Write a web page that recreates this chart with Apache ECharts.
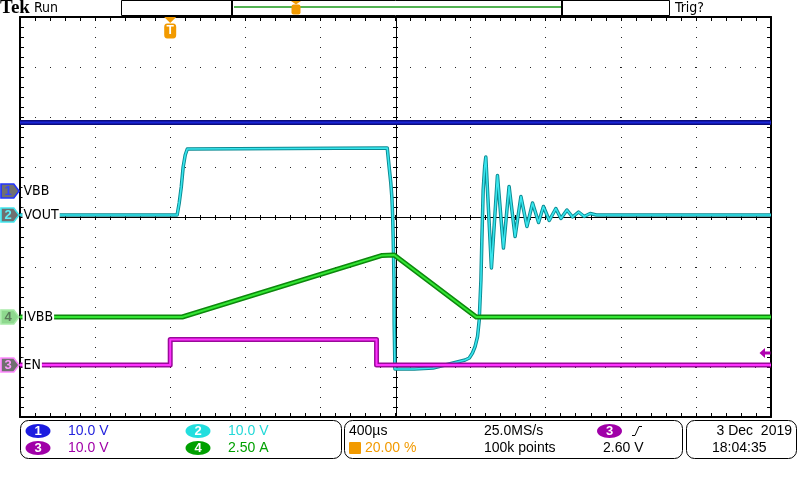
<!DOCTYPE html>
<html><head><meta charset="utf-8">
<script src="https://cdn.jsdelivr.net/npm/echarts@6/dist/echarts.min.js"></script>
<style>html,body{margin:0;padding:0;background:#fff}#c{width:800px;height:480px}</style>
</head><body><div id="c"></div>
<script>
// ---------- data (time in µs, 400 µs/div, trigger at 20 %) ----------
const timeMin = -800, timeMax = 3200, timeDiv = 400;

const vbbTime = [-800, 3200];
const vbbVolt = [13.7, 13.7];

const voutTime = [-800, 37, 48, 59, 69, 80, 91, 100, 1156, 1166, 1175, 1181, 1185, 1188, 1192, 1193, 1197,
  1300, 1400, 1486, 1571, 1593, 1610, 1624, 1637, 1646, 1655, 1660, 1667, 1675, 1681,
  1711, 1743, 1775, 1805, 1837, 1868, 1900, 1930, 1962, 1988, 2019, 2054, 2081, 2113, 2143, 2175, 2205, 2237, 2270, 3200];
const voutVolt = [0, 0, 2.4, 5.6, 9.6, 12.0, 13.2, 13.5, 13.4, 9.6, 6.4, 3.4, -0.4, -5, -13, -21.6, -30.8,
  -30.8, -30.6, -29.8, -29.0, -28.6, -27.6, -26.3, -24.3, -21, -13, -5, 5, 9.7, 11.6,
  -10.6, 7.9, -6.6, 5.7, -4.3, 3.7, -2.3, 2.4, -1.5, 1.7, -1.1, 1.3, -0.7, 1.0, -0.4, 0.6, -0.3, 0.3, 0, 0];

const ivbbTime = [-800, 64, 1129, 1193, 1630, 3200];
const ivbbAmp  = [0, 0, 3.08, 3.1, 0, 0];

const enTime = [-800, 0, 0, 1099, 1099, 3200];
const enVolt = [0, 0, 5.1, 5.1, 0, 0];

const trigLevel = 2.60;

// channel settings: scale per division and ground offset in divisions
const chNames   = ['VBB', 'VOUT', 'EN', 'IVBB'];
const chScale   = [10, 10, 10, 2.5];
const chOffset  = [0.52, 0.04, -2.96, -2.0];

// ---------- helpers ----------
function toDiv(times, vals, ch) {
  return times.map((t, i) => [t, vals[i] / chScale[ch] + chOffset[ch]]);
}
const FONT = "'Liberation Sans', 'DejaVu Sans', sans-serif";
const NARROW = "'Liberation Sans Narrow', 'DejaVu Sans Condensed', 'Liberation Sans', sans-serif";

const chStyle = [
  { outer: '#0c0c7e', inner: '#1a26d8', ow: 5, iw: 1.8, markFill: '#707070', markBorder: '#2233ff', markText: '#3344ff' },
  { outer: '#0b8a92', inner: '#38e6ee', ow: 3.5, iw: 1.6, markFill: '#707070', markBorder: '#40e8f0', markText: '#60f0f8' },
  { outer: '#9a0a9a', inner: '#ff33ff', ow: 5, iw: 2, markFill: '#707070', markBorder: '#ff88ff', markText: '#ff99ff' },
  { outer: '#0d880d', inner: '#33e633', ow: 5, iw: 2, markFill: '#8ed88e', markBorder: '#a8eaa8', markText: '#5a7a5a' }
];
const pentagon = 'path://M0,0 L12,0 L17,7 L12,14 L0,14 Z';

function channelMarks(ch) {
  const s = chStyle[ch];
  return {
    silent: true,
    animation: false,
    z: 30,
    data: [
      {
        coord: [timeMin, chOffset[ch]],
        symbol: pentagon, symbolSize: [18, 14], symbolKeepAspect: false, symbolOffset: [-10, 0],
        itemStyle: { color: s.markFill, borderColor: s.markBorder, borderWidth: 1.5 },
        label: { show: true, formatter: String(ch + 1), color: s.markText, fontSize: 13, fontWeight: 'bold', fontFamily: FONT, offset: [-2, 0] }
      },
      {
        coord: [timeMin, chOffset[ch]],
        symbol: 'rect', symbolSize: [1, 1],
        itemStyle: { color: 'rgba(0,0,0,0)' },
        label: { show: true, position: 'right', distance: 2, formatter: chNames[ch], color: '#000', fontSize: 14, fontFamily: NARROW, backgroundColor: '#fff', padding: [1, 1, 0, 1] }
      }
    ]
  };
}

function traceSeries(ch, data, extraMarks) {
  const s = chStyle[ch];
  const outer = {
    type: 'line', xAxisIndex: 0, yAxisIndex: 0, data: data, symbol: 'none', animation: false, silent: true,
    lineStyle: { color: s.outer, width: s.ow, join: 'round' }, z: 3 + ch
  };
  const inner = {
    type: 'line', xAxisIndex: 0, yAxisIndex: 0, data: data, symbol: 'none', animation: false, silent: true,
    lineStyle: { color: s.inner, width: s.iw, join: 'round' }, z: 3 + ch
  };
  const marks = channelMarks(ch);
  if (extraMarks) marks.data = marks.data.concat(extraMarks);
  outer.markPoint = marks;
  return [outer, inner];
}

const trigMarks = [
  { coord: [0, 4], symbol: 'triangle', symbolRotate: 180, symbolSize: [12, 6], symbolOffset: [0, 3],
    itemStyle: { color: '#f29a00' }, label: { show: false } },
  { coord: [0, 4], symbol: 'roundRect', symbolSize: [12, 15], symbolOffset: [0, 14],
    itemStyle: { color: '#f29a00' },
    label: { show: true, formatter: 'T', color: '#fff', fontWeight: 'bold', fontSize: 12, fontFamily: FONT, offset: [0, 0], backgroundColor: 'transparent' } }
];
const levelMark = [
  { coord: [timeMax, trigLevel / chScale[2] + chOffset[2]],
    symbol: 'path://M0,5 L5,0 L5,3.5 L10,3.5 L10,6.5 L5,6.5 L5,10 Z', symbolSize: [11, 10], symbolKeepAspect: false,
    symbolOffset: [-6, 1], itemStyle: { color: '#b000b0' }, label: { show: false } }
];

const series = [].concat(
  traceSeries(0, toDiv(vbbTime, vbbVolt, 0)),
  traceSeries(3, toDiv(ivbbTime, ivbbAmp, 3)),
  traceSeries(1, toDiv(voutTime, voutVolt, 1), trigMarks),
  traceSeries(2, toDiv(enTime, enVolt, 2), levelMark)
);

// ---------- decoration axes (graticule) ----------
const black = '#000';
function borderAxis(extra) {
  return Object.assign({
    type: 'value', axisLabel: { show: false },
    axisLine: { show: true, onZero: false, lineStyle: { color: black, width: 2 } },
    axisTick: { show: true, inside: true, length: 4, lineStyle: { color: black } },
    minorTick: { show: true, splitNumber: 5, length: 4, lineStyle: { color: black } },
    splitLine: { show: false }
  }, extra);
}
function centerAxis(extra, showLine) {
  return Object.assign({
    type: 'value', axisLabel: { show: false },
    axisLine: { show: showLine, onZero: false, lineStyle: { color: black, width: 1 } },
    axisTick: { show: true, inside: true, length: 3, lineStyle: { color: black } },
    minorTick: { show: true, splitNumber: 5, length: 3, lineStyle: { color: black } },
    splitLine: { show: false }
  }, extra);
}

const option = {
  animation: false,
  backgroundColor: '#fff',
  grid: [
    { left: 20, top: 17, width: 751, height: 400 },
    { left: 20, top: 17, width: 751, height: 400 },
    { left: 20, top: 217, width: 751, height: 1 },
    { left: 395, top: 17, width: 1, height: 400 }
  ],
  xAxis: [
    { type: 'value', gridIndex: 0, min: timeMin, max: timeMax, interval: timeDiv, show: false },
    borderAxis({ gridIndex: 1, position: 'bottom', min: -5, max: 5, interval: 1,
      splitLine: { show: true, lineStyle: { color: '#222', width: 1, type: [1, 9] } } }),
    borderAxis({ gridIndex: 1, position: 'top', min: -5, max: 5, interval: 1 }),
    centerAxis({ gridIndex: 2, position: 'top', min: -5, max: 5, interval: 1 }, true),
    centerAxis({ gridIndex: 2, position: 'bottom', min: -5, max: 5, interval: 1 }, false),
    { type: 'value', gridIndex: 3, min: 0, max: 1, show: false }
  ],
  yAxis: [
    { type: 'value', gridIndex: 0, min: -4, max: 4, interval: 1, show: false },
    borderAxis({ gridIndex: 1, position: 'left', min: -4, max: 4, interval: 1,
      splitLine: { show: true, lineStyle: { color: '#222', width: 1, type: [1, 14] } } }),
    borderAxis({ gridIndex: 1, position: 'right', min: -4, max: 4, interval: 1 }),
    { type: 'value', gridIndex: 2, min: 0, max: 1, show: false },
    centerAxis({ gridIndex: 3, position: 'right', min: -4, max: 4, interval: 1 }, true),
    centerAxis({ gridIndex: 3, position: 'left', min: -4, max: 4, interval: 1 }, false)
  ],
  series: series,
  graphic: { elements: buildChrome() }
};

function txt(x, y, text, color, font, align) {
  return { type: 'text', silent: true, z: 100,
    style: { x: x, y: y, text: text, fill: color, font: font, textAlign: align || 'left', textVerticalAlign: 'middle' } };
}
function badge(cx, cy, num, fill) {
  return [
    { type: 'ellipse', silent: true, z: 100, shape: { cx: cx, cy: cy, rx: 12.5, ry: 7 }, style: { fill: fill } },
    txt(cx, cy + 0.5, num, '#fff', 'bold 13px ' + FONT, 'center')
  ];
}
function buildChrome() {
  const F = '14px ' + FONT;
  const els = [];
  // header
  els.push(txt(0, 8, 'Tek', '#000', 'bold 19px "Liberation Serif", serif'));
  els.push(txt(34, 8, 'Run', '#000', '14px ' + NARROW));
  els.push({ type: 'rect', silent: true, z: 100, shape: { x: 121.5, y: 0.5, width: 548, height: 15 }, style: { fill: '#fff', stroke: '#000', lineWidth: 1 } });
  els.push({ type: 'line', silent: true, z: 101, shape: { x1: 232, y1: 0, x2: 232, y2: 16 }, style: { stroke: '#000', lineWidth: 2 } });
  els.push({ type: 'line', silent: true, z: 101, shape: { x1: 562, y1: 0, x2: 562, y2: 16 }, style: { stroke: '#000', lineWidth: 2 } });
  els.push({ type: 'line', silent: true, z: 101, shape: { x1: 234, y1: 7, x2: 561, y2: 7 }, style: { stroke: '#1a9a1a', lineWidth: 1.5 } });
  els.push({ type: 'polygon', silent: true, z: 102, shape: { points: [[291, 1], [301, 1], [296, 4.5]] }, style: { fill: '#f29a00' } });
  els.push({ type: 'rect', silent: true, z: 102, shape: { x: 291.5, y: 4.5, width: 9, height: 10, r: 2 }, style: { fill: '#f29a00' } });
  els.push(txt(296, 10, 'T', '#fff', 'bold 9px ' + FONT, 'center'));
  els.push(txt(675, 8, 'Trig?', '#000', '14px ' + NARROW));
  // footer box 1
  els.push({ type: 'rect', silent: true, z: 100, shape: { x: 20.5, y: 420.5, width: 321, height: 38, r: 8 }, style: { fill: '#fff', stroke: '#000', lineWidth: 1 } });
  [].push.apply(els, badge(38, 431, '1', '#1c1ce0'));
  els.push(txt(68, 431, '10.0 V', '#2222dd', F));
  [].push.apply(els, badge(198, 431, '2', '#22dede'));
  els.push(txt(228, 431, '10.0 V', '#22d8d8', F));
  [].push.apply(els, badge(38, 448, '3', '#a000a8'));
  els.push(txt(68, 448, '10.0 V', '#a000a8', F));
  [].push.apply(els, badge(198, 448, '4', '#00a000'));
  els.push(txt(228, 448, '2.50 A', '#00a000', F));
  // footer box 2
  els.push({ type: 'rect', silent: true, z: 100, shape: { x: 344.5, y: 420.5, width: 338, height: 38, r: 8 }, style: { fill: '#fff', stroke: '#000', lineWidth: 1 } });
  els.push(txt(349, 431, '400\u00b5s', '#000', F));
  els.push({ type: 'rect', silent: true, z: 101, shape: { x: 349, y: 442, width: 12, height: 12, r: 1 }, style: { fill: '#f29a00' } });
  els.push(txt(355, 448.5, 'T', '#fff', 'bold 11px ' + FONT, 'center'));
  els.push(txt(365, 448, '20.00 %', '#f29a00', F));
  els.push(txt(484, 431, '25.0MS/s', '#000', F));
  els.push(txt(484, 448, '100k points', '#000', F));
  [].push.apply(els, badge(609.5, 431, '3', '#a000a8'));
  els.push({ type: 'polyline', silent: true, z: 101, shape: { points: [[632, 435.5], [635, 435.5], [639, 426.5], [642, 426.5]] }, style: { stroke: '#000', lineWidth: 1, fill: 'none' } });
  els.push(txt(603, 448, '2.60 V', '#000', F));
  // footer box 3
  els.push({ type: 'rect', silent: true, z: 100, shape: { x: 686.5, y: 420.5, width: 110, height: 38, r: 8 }, style: { fill: '#fff', stroke: '#000', lineWidth: 1 } });
  els.push(txt(792, 431, '3 Dec  2019', '#000', F, 'right'));
  els.push(txt(712, 448, '18:04:35', '#000', F));
  return els;
}

const chart = echarts.init(document.getElementById('c'), null, { renderer: 'canvas' });
chart.setOption(option);
</script>
</body></html>
